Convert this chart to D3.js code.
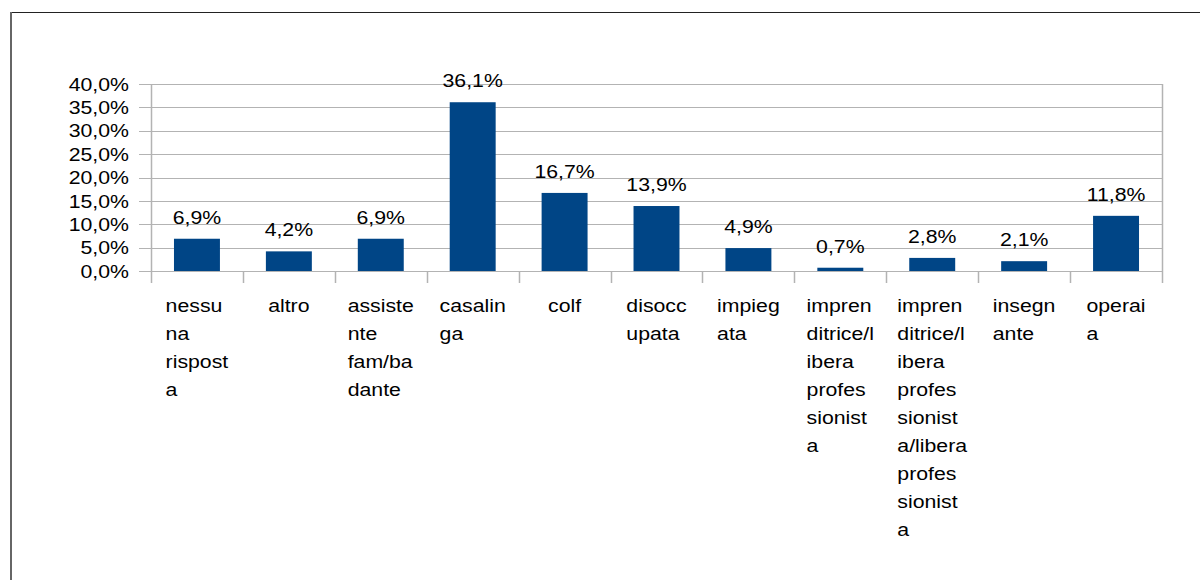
<!DOCTYPE html>
<html><head><meta charset="utf-8">
<script src="https://cdn.jsdelivr.net/npm/d3@7"></script>
<style>
html,body{margin:0;padding:0;background:#fff;}
svg{display:block;}
text{font-family:"Liberation Sans",Arial,sans-serif;fill:#000;}
</style></head>
<body>
<svg id="chart" width="1200" height="580"></svg>
<script>
const categories = ["nessuna risposta","altro","assistente fam/badante","casalinga","colf","disoccupata","impiegata","imprenditrice/libera professionista","imprenditrice/libera professionista/libera professionista","insegnante","operaia"];
const categoryLines = [
  ["nessu","na","rispost","a"],
  ["altro"],
  ["assiste","nte","fam/ba","dante"],
  ["casalin","ga"],
  ["colf"],
  ["disocc","upata"],
  ["impieg","ata"],
  ["impren","ditrice/l","ibera","profes","sionist","a"],
  ["impren","ditrice/l","ibera","profes","sionist","a/libera","profes","sionist","a"],
  ["insegn","ante"],
  ["operai","a"]
];
const values = [6.9, 4.2, 6.9, 36.1, 16.7, 13.9, 4.9, 0.7, 2.8, 2.1, 11.8];
const yTicks = [0, 5, 10, 15, 20, 25, 30, 35, 40];

(function () {
const SX = 1.15, FS = 18.5;
const svg = d3.select("#chart");
const pLeft = 151, pRight = 1162, pTop = 84, pBottom = 271;
const x = d3.scaleBand().domain(categories).range([pLeft, pRight]).paddingInner(0.5).paddingOuter(0.25);
const xb = d3.scaleBand().domain(categories).range([pLeft, pRight]).padding(0);
const y = d3.scaleLinear().domain([0, 40]).range([pBottom, pTop]);
const fmt = v => d3.format(".1f")(v).replace(".", ",") + "%";

// frame
svg.append("line").attr("x1", 11).attr("x2", 1200).attr("y1", 12.5).attr("y2", 12.5).attr("stroke", "#222").attr("stroke-width", 1);
svg.append("line").attr("x1", 11).attr("x2", 11).attr("y1", 12).attr("y2", 580).attr("stroke", "#666").attr("stroke-width", 2);

// gridlines
svg.append("g").selectAll("line").data(yTicks).join("line")
  .attr("x1", pLeft - 12).attr("x2", pRight)
  .attr("y1", d => Math.round(y(d)) + 0.5).attr("y2", d => Math.round(y(d)) + 0.5)
  .attr("stroke", "#b3b3b3").attr("stroke-width", 1);

// y labels
svg.append("g").selectAll("text").data(yTicks).join("text")
  .attr("transform", d => `translate(129,${y(d)}) scale(${SX},1)`)
  .attr("dy", "0.36em").attr("text-anchor", "end").attr("font-size", FS)
  .text(fmt);

// vertical axis line & right border
[pLeft, pRight].forEach(px => {
  svg.append("line").attr("x1", px + 0.5).attr("x2", px + 0.5).attr("y1", pTop).attr("y2", pBottom + 12)
    .attr("stroke", "#b3b3b3").attr("stroke-width", 1.5);
});
// category ticks
svg.append("g").selectAll("line").data(categories.slice(1)).join("line")
  .attr("x1", d => Math.round(xb(d)) + 0.5).attr("x2", d => Math.round(xb(d)) + 0.5)
  .attr("y1", pBottom).attr("y2", pBottom + 12)
  .attr("stroke", "#b3b3b3").attr("stroke-width", 1.5);

// bars
svg.append("g").selectAll("rect").data(values).join("rect")
  .attr("x", (d, i) => x(categories[i]))
  .attr("width", x.bandwidth())
  .attr("y", d => y(d))
  .attr("height", d => y(0) - y(d))
  .attr("fill", "#004586");

// value labels
svg.append("g").selectAll("text").data(values).join("text")
  .attr("transform", (d, i) => `translate(${x(categories[i]) + x.bandwidth() / 2},${y(d) - 15}) scale(${SX},1)`)
  .attr("text-anchor", "middle").attr("font-size", FS)
  .text(fmt);

// category labels
const cg = svg.append("g");
categories.forEach((c, i) => {
  const cx = xb(c) + xb.bandwidth() / 2;
  const g = cg.append("g");
  const texts = categoryLines[i].map(line =>
    g.append("text").attr("font-size", FS).attr("x", 0).attr("y", 0).text(line));
  const maxW = d3.max(texts, t => t.node().getComputedTextLength()) * SX;
  texts.forEach((t, j) => t.attr("transform", `translate(${cx - maxW / 2},${312 + j * 28}) scale(${SX},1)`));
});
})();
</script>
</body></html>
